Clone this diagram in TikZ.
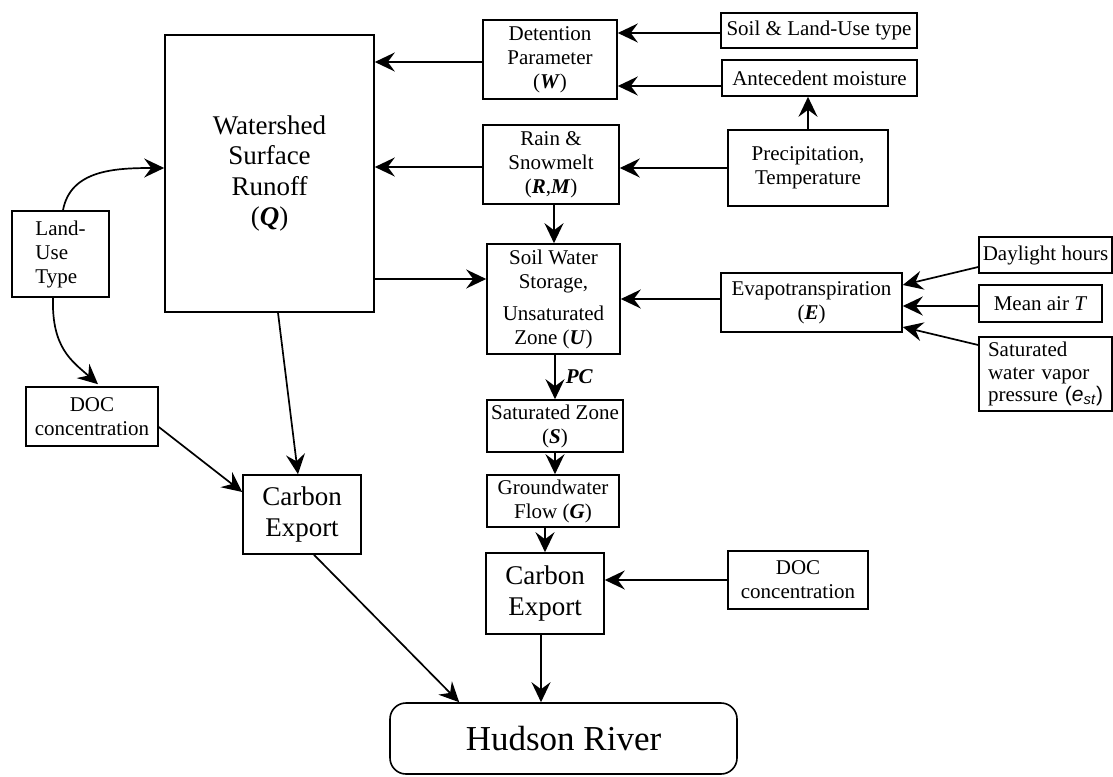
\documentclass[tikz,border=0pt]{standalone}
\usepackage{fontspec}
\setmainfont{Liberation Serif}
\setsansfont{Liberation Sans}
\usetikzlibrary{arrows.meta,calc}
\newcommand\varb[1]{\textbf{\textit{#1}}}
\begin{document}
\begin{tikzpicture}[x=1pt,y=-1pt,
  box/.style={draw, line width=1.6pt, inner sep=0pt, align=center, font=\fontsize{21}{24}\selectfont},
  big/.style={box, font=\fontsize{27}{30.5}\selectfont},
  arr/.style={line width=1.7pt, -{Stealth[length=20pt,width=19pt,inset=7pt]}},
  lbl/.style={inner sep=0pt, font=\fontsize{21}{24}\selectfont}]
\useasboundingbox (0,0) rectangle (1113,776);
% nodes
\node[big, minimum width=209pt, minimum height=277pt] (ws) at (269.5,173.5) {Watershed\\Surface\\Runoff\\(\varb{Q})};
\node[box, minimum width=134pt, minimum height=79pt] (det) at (550,59.5) {Detention\\Parameter\\(\varb{W})};
\node[box, minimum width=196pt, minimum height=35pt] (soil) at (819,30.5) {Soil \& Land-Use type};
\node[box, minimum width=195pt, minimum height=36pt] (ante) at (819.5,78) {Antecedent moisture};
\node[box, minimum width=160pt, minimum height=76pt] (prec) at (808,168) {Precipitation,\\Temperature};
\node[box, minimum width=136pt, minimum height=79pt] (rain) at (551,164.5) {Rain \&\\Snowmelt\\(\varb{R},\varb{M})};
\node[box, minimum width=133pt, minimum height=110pt] (sws) at (553.5,299) {Soil Water\\Storage,\\[8pt]Unsaturated\\Zone (\varb{U})};
\node[box, minimum width=181pt, minimum height=59pt] (evap) at (811.5,302.5) {Evapotranspiration\\(\varb{E})};
\node[box, minimum width=133pt, minimum height=36pt] (day) at (1045.5,255) {Daylight hours};
\node[box, minimum width=123pt, minimum height=37pt] (mean) at (1040.5,303.5) {Mean air \textit{T}};
\node[box, minimum width=133pt, minimum height=74pt, text width=115pt, inner xsep=9pt, align=left, font=\fontsize{21}{22.5}\selectfont] (satw) at (1045.5,374) {Saturated\\water vapor\\\mbox{pressure {\sffamily(\textit{e}\textsubscript{\textit{st}})}}};
\node[box, minimum width=136pt, minimum height=52pt] (sat) at (555,426) {Saturated Zone\\(\varb{S})};
\node[box, minimum width=132pt, minimum height=52pt] (gw) at (553,501) {Groundwater\\Flow (\varb{G})};
\node[big, minimum width=118pt, minimum height=81pt] (c2) at (545,593.5) {Carbon\\Export};
\node[box, minimum width=140pt, minimum height=58pt] (doc2) at (798,580) {DOC\\concentration};
\node[draw, line width=1.6pt, rounded corners=16pt, minimum width=347pt, minimum height=71pt, font=\fontsize{35}{40}\selectfont] (hud) at (563.5,738.5) {Hudson River};
\node[big, minimum width=118pt, minimum height=79pt] (c1) at (302,514.5) {Carbon\\Export};
\node[box, minimum width=132pt, minimum height=59pt] (doc1) at (92,416.5) {DOC\\concentration};
\node[box, minimum width=97pt, minimum height=86pt, align=left] (land) at (60.5,254) {Land-\\Use\\Type};
% connectors
\draw[arr] ($(soil.west)+(0,2.5)$) -- ($(soil.west -| det.east)+(0,2.5)$);
\draw[arr] ($(ante.west)+(0,8)$) -- ($(ante.west -| det.east)+(0,8)$);
\draw[arr] (prec.north) -- (prec.north |- ante.south);
\draw[arr] (prec.west) -- (prec.west -| rain.east);
\draw[arr] ($(det.west)+(0,2.5)$) -- ($(det.west -| ws.east)+(0,2.5)$);
\draw[arr] ($(rain.west)+(0,2.5)$) -- ($(rain.west -| ws.east)+(0,2.5)$);
\draw[arr] ($(sws.west -| ws.east)+(0,-20)$) -- ($(sws.west)+(0,-20)$);
\draw[arr] ($(rain.south)+(3,0)$) -- ($(rain.south |- sws.north)+(3,0)$);
\draw[arr] ($(evap.west)+(0,-3.5)$) -- ($(evap.west -| sws.east)+(0,-3.5)$);
\draw[arr] ($(day.west)+(0,12)$) -- ($(evap.east)+(0,-17.5)$);
\draw[arr] ($(mean.west)+(0,2.5)$) -- ($(mean.west -| evap.east)+(0,2.5)$);
\draw[arr] ($(satw.west)+(0,-29)$) -- ($(evap.east)+(0,24.5)$);
\draw[arr] ($(sws.south)+(1.5,0)$) -- node[lbl, right=10pt] {\varb{PC}} ($(sws.south |- sat.north)+(1.5,0)$);
\draw[arr] (sat.south) -- (sat.south |- gw.north);
\draw[arr] (c2.north |- gw.south) -- (c2.north);
\draw[arr] (doc2.west) -- (doc2.west -| c2.east);
\draw[arr] ($(c2.south)+(-4,0)$) -- ($(c2.south |- hud.north)+(-4,0)$);
\draw[arr] ($(c1.south)+(12,0)$) -- ($(hud.north west)+(70,0)$);
\draw[arr] ($(ws.south)+(8.5,0)$) -- ($(c1.north)+(-4,0)$);
\draw[arr] ($(doc1.east)+(0,10.5)$) -- ($(c1.west)+(0,-22.5)$);
\draw[arr] ($(land.north)+(2.5,0)$) .. controls ($(land.north)+(10,-40)$) and ($(ws.west)+(-50,-5.5)$) .. ($(ws.west)+(0,-5.5)$);
\draw[arr] ($(land.south)+(-7.5,0)$) .. controls ($(land.south)+(-9,50)$) and ($(doc1.north)+(-20,-25)$) .. ($(doc1.north)+(6,-2)$);
\end{tikzpicture}
\end{document}
